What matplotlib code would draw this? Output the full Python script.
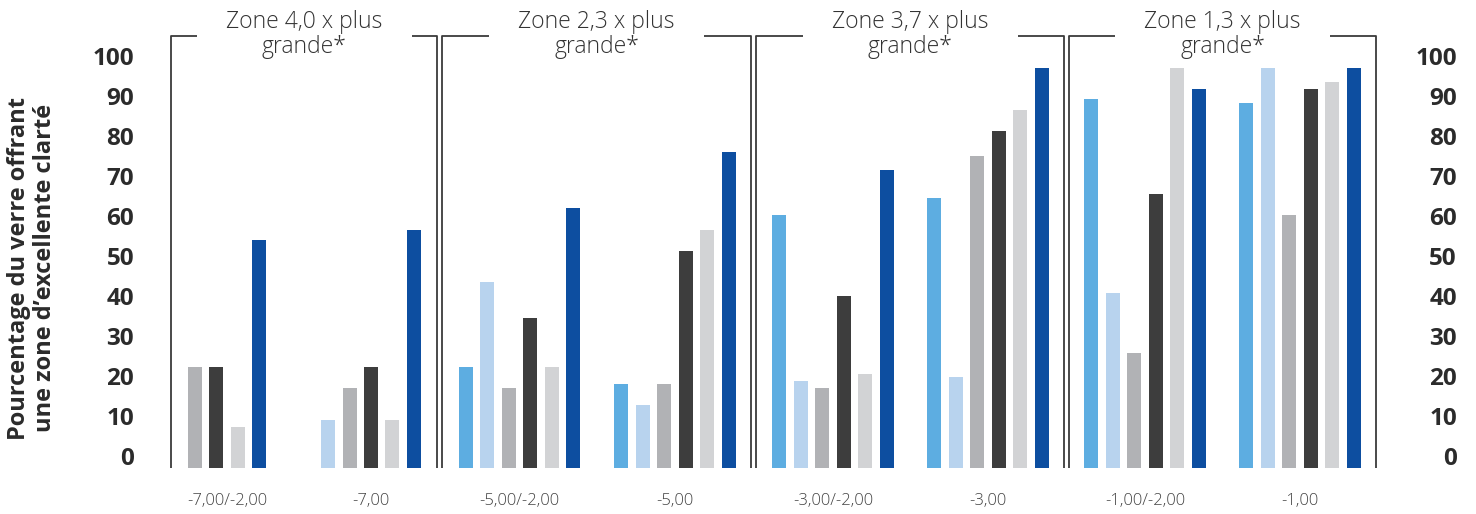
import numpy as np
import matplotlib
matplotlib.use("Agg")
import matplotlib.pyplot as plt

# ---------------- data ----------------
categories = ["-7,00/-2,00", "-7,00", "-5,00/-2,00", "-5,00",
              "-3,00/-2,00", "-3,00", "-1,00/-2,00", "-1,00"]
nan = np.nan
s_midblue   = [nan, nan, 25.1, 20.9, 63.1, 67.4, 92.1, 91.1]
s_lightblue = [nan, 11.9, 46.4, 15.6, 21.6, 22.6, 43.6, 99.9]
s_gray      = [25.1, 19.9, 19.9, 20.9, 19.9, 77.9, 28.6, 63.1]
s_dark      = [25.1, 25.1, 37.4, 54.1, 42.9, 84.1, 68.4, 94.6]
s_lightgray = [10.1, 11.9, 25.1, 59.4, 23.4, 89.4, 99.9, 96.4]
s_blue      = [56.9, 59.4, 64.9, 78.9, 74.4, 99.9, 94.6, 99.9]
series = [s_midblue, s_lightblue, s_gray, s_dark, s_lightgray, s_blue]

zone_titles = ["Zone 4,0 x plus\ngrande*", "Zone 2,3 x plus\ngrande*",
               "Zone 3,7 x plus\ngrande*", "Zone 1,3 x plus\ngrande*"]
yticks = [0, 10, 20, 30, 40, 50, 60, 70, 80, 90, 100]
ylabel = "Pourcentage du verre offrant\nune zone d\u2019excellente clart\u00e9"

# ---------------- style / layout ----------------
colors = ["#5DADE1", "#B8D3EE", "#B1B2B5", "#3D3D3D", "#D2D3D5", "#0D4EA0"]
W, H = 1476, 514
group_centres = [227, 371, 519.5, 675, 833, 988, 1145, 1300]   # layout units (px)
bracket_spans = [(171, 437), (442, 751), (756, 1064), (1069, 1376)]
bar_pitch, bar_width = 21.45, 14
gap_width = 215
px_per_unit = 4.0
base_px, top_px = 467.5, 67.5

fig = plt.figure(figsize=(W / 100, H / 100), dpi=100)
ax_left = 171 / W
ax_right = 1376 / W
ax = fig.add_axes([ax_left, (H - base_px) / H, ax_right - ax_left, (base_px - top_px) / H])
ax.set_xlim(171, 1376)
ax.set_ylim(0, 100)
for sp in ax.spines.values():
    sp.set_visible(False)
ax.set_yticks([])
ax.tick_params(axis="x", length=0, pad=18.5, labelsize=12, labelcolor="#444444")

sans = ["Open Sans", "DejaVu Sans"]

# bars (present bars centred in each group)
for g, c in enumerate(group_centres):
    present = [k for k in range(len(series)) if not np.isnan(series[k][g])]
    n = len(present)
    for j, k in enumerate(present):
        x = c + (j - (n - 1) / 2) * bar_pitch
        ax.bar(x, series[k][g], width=bar_width, color=colors[k], linewidth=0)

ax.set_xticks(group_centres)
ax.set_xticklabels(categories, family=sans, fontweight="light")

# brackets
top_val = (base_px - 36) / px_per_unit
lc = "#3A3A3A"
for (x0, x1), title in zip(bracket_spans, zone_titles):
    mid = (x0 + x1) / 2
    kw = dict(color=lc, lw=1.3, clip_on=False, solid_capstyle="butt")
    ax.plot([x0, x0, mid - gap_width / 2], [0, top_val, top_val], **kw)
    ax.plot([mid + gap_width / 2, x1, x1], [top_val, top_val, 0], **kw)
    ax.text(mid, (base_px - 34.5) / px_per_unit, title, ha="center", va="center",
            fontsize=16.5, color="#333333", family=sans, fontweight="light",
            linespacing=1.05, clip_on=False)

# y tick labels, both sides
for v in yticks:
    ax.annotate(str(v), xy=(0, v), xycoords=("axes fraction", "data"),
                xytext=(134 - 171, 2.5), textcoords="offset pixels",
                ha="right", va="baseline", fontsize=17.5, fontweight="bold",
                color="#2B2B2B", family=sans, annotation_clip=False)
    ax.annotate(str(v), xy=(1, v), xycoords=("axes fraction", "data"),
                xytext=(1457 - 1376, 2.5), textcoords="offset pixels",
                ha="right", va="baseline", fontsize=17.5, fontweight="bold",
                color="#2B2B2B", family=sans, annotation_clip=False)

fig.text(32 / W, (H - 268) / H, ylabel, rotation=90, ha="center", va="center",
         fontsize=17, fontweight="bold", color="#2B2B2B", family=sans,
         linespacing=1.1, multialignment="center")

fig.savefig("out.png", dpi=100)
